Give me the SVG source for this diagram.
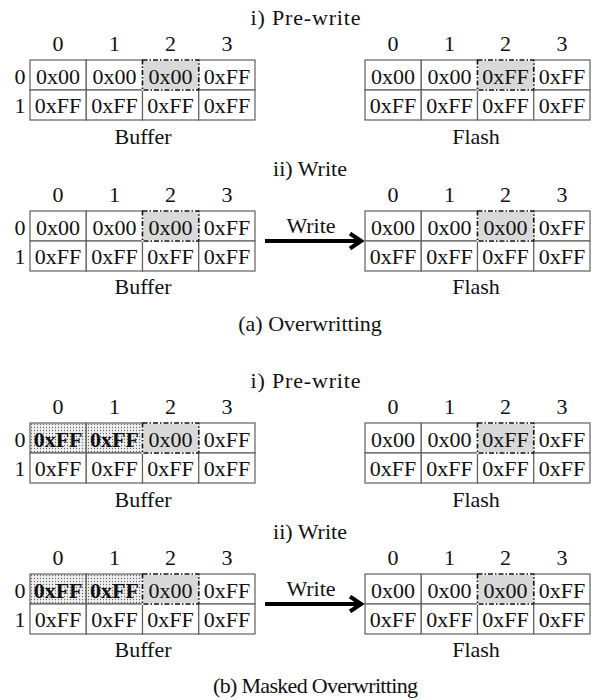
<svg xmlns="http://www.w3.org/2000/svg" width="596" height="700" viewBox="0 0 596 700">
<defs>
<style>
text{font-family:"Liberation Serif","Times New Roman",serif;font-size:22px;fill:#111;text-anchor:middle}
.b{font-weight:bold}
.grid{fill:#fff;stroke:#606060;stroke-width:1.2}
.hl{fill:#d9d9d9;stroke:#fff;stroke-width:1.6}
.hld{fill:none;stroke:#111;stroke-width:1.6;stroke-dasharray:5 2 1.5 2}
.mask{fill:url(#dots);stroke:#606060;stroke-width:1.2}
.arr{stroke:#000;stroke-width:4;fill:none}
</style>
<pattern id="dots" width="3" height="3" patternUnits="userSpaceOnUse">
<rect width="3" height="3" fill="#f0f0f0"/>
<circle cx="1.5" cy="1.5" r="0.65" fill="#666"/>
</pattern>
<marker id="ah" viewBox="0 0 16 18" refX="13" refY="9" markerWidth="16" markerHeight="18" markerUnits="userSpaceOnUse" orient="auto">
<path d="M2,1.5 L13,9 L2,16.5" fill="none" stroke="#000" stroke-width="4"/>
</marker>
</defs>
<rect width="596" height="700" fill="#fff"/>

<!-- (a) Overwritting -->
<text x="305.5" y="25" textLength="110" lengthAdjust="spacing">i) Pre-write</text>

<g id="bufA1" transform="translate(30,60)">
<rect class="grid" x="0" y="0" width="56.25" height="30"/><rect class="grid" x="56.25" y="0" width="56.25" height="30"/><rect class="grid" x="168.75" y="0" width="56.25" height="30"/>
<rect class="grid" x="0" y="30" width="56.25" height="30"/><rect class="grid" x="56.25" y="30" width="56.25" height="30"/><rect class="grid" x="112.5" y="30" width="56.25" height="30"/><rect class="grid" x="168.75" y="30" width="56.25" height="30"/>
<rect class="hl" x="112.5" y="0" width="56.25" height="30"/><rect class="hld" x="112.5" y="0" width="56.25" height="30"/>
<text x="28.1" y="-9">0</text><text x="84.4" y="-9">1</text><text x="140.6" y="-9">2</text><text x="196.9" y="-9">3</text>
<text x="-10" y="23.5">0</text><text x="-10" y="53">1</text>
<text x="28.1" y="23.5">0x00</text><text x="84.4" y="23.5">0x00</text><text x="140.6" y="23.5">0x00</text><text x="196.9" y="23.5">0xFF</text>
<text x="28.1" y="53">0xFF</text><text x="84.4" y="53">0xFF</text><text x="140.6" y="53">0xFF</text><text x="196.9" y="53">0xFF</text>
<text x="113" y="84">Buffer</text>
</g>

<g id="flashA1" transform="translate(365,60)">
<rect class="grid" x="0" y="0" width="56.25" height="30"/><rect class="grid" x="56.25" y="0" width="56.25" height="30"/><rect class="grid" x="168.75" y="0" width="56.25" height="30"/>
<rect class="grid" x="0" y="30" width="56.25" height="30"/><rect class="grid" x="56.25" y="30" width="56.25" height="30"/><rect class="grid" x="112.5" y="30" width="56.25" height="30"/><rect class="grid" x="168.75" y="30" width="56.25" height="30"/>
<rect class="hl" x="112.5" y="0" width="56.25" height="30"/><rect class="hld" x="112.5" y="0" width="56.25" height="30"/>
<text x="28.1" y="-9">0</text><text x="84.4" y="-9">1</text><text x="140.6" y="-9">2</text><text x="196.9" y="-9">3</text>
<text x="28.1" y="23.5">0x00</text><text x="84.4" y="23.5">0x00</text><text x="140.6" y="23.5">0xFF</text><text x="196.9" y="23.5">0xFF</text>
<text x="28.1" y="53">0xFF</text><text x="84.4" y="53">0xFF</text><text x="140.6" y="53">0xFF</text><text x="196.9" y="53">0xFF</text>
<text x="111" y="84">Flash</text>
</g>

<text x="310" y="176">ii) Write</text>

<g id="bufA2" transform="translate(30,211)">
<rect class="grid" x="0" y="0" width="56.25" height="30"/><rect class="grid" x="56.25" y="0" width="56.25" height="30"/><rect class="grid" x="168.75" y="0" width="56.25" height="30"/>
<rect class="grid" x="0" y="30" width="56.25" height="30"/><rect class="grid" x="56.25" y="30" width="56.25" height="30"/><rect class="grid" x="112.5" y="30" width="56.25" height="30"/><rect class="grid" x="168.75" y="30" width="56.25" height="30"/>
<rect class="hl" x="112.5" y="0" width="56.25" height="30"/><rect class="hld" x="112.5" y="0" width="56.25" height="30"/>
<text x="28.1" y="-9">0</text><text x="84.4" y="-9">1</text><text x="140.6" y="-9">2</text><text x="196.9" y="-9">3</text>
<text x="-10" y="23.5">0</text><text x="-10" y="53">1</text>
<text x="28.1" y="23.5">0x00</text><text x="84.4" y="23.5">0x00</text><text x="140.6" y="23.5">0x00</text><text x="196.9" y="23.5">0xFF</text>
<text x="28.1" y="53">0xFF</text><text x="84.4" y="53">0xFF</text><text x="140.6" y="53">0xFF</text><text x="196.9" y="53">0xFF</text>
<text x="113" y="83">Buffer</text>
</g>

<g id="flashA2" transform="translate(365,211)">
<rect class="grid" x="0" y="0" width="56.25" height="30"/><rect class="grid" x="56.25" y="0" width="56.25" height="30"/><rect class="grid" x="168.75" y="0" width="56.25" height="30"/>
<rect class="grid" x="0" y="30" width="56.25" height="30"/><rect class="grid" x="56.25" y="30" width="56.25" height="30"/><rect class="grid" x="112.5" y="30" width="56.25" height="30"/><rect class="grid" x="168.75" y="30" width="56.25" height="30"/>
<rect class="hl" x="112.5" y="0" width="56.25" height="30"/><rect class="hld" x="112.5" y="0" width="56.25" height="30"/>
<text x="28.1" y="-9">0</text><text x="84.4" y="-9">1</text><text x="140.6" y="-9">2</text><text x="196.9" y="-9">3</text>
<text x="28.1" y="23.5">0x00</text><text x="84.4" y="23.5">0x00</text><text x="140.6" y="23.5">0x00</text><text x="196.9" y="23.5">0xFF</text>
<text x="28.1" y="53">0xFF</text><text x="84.4" y="53">0xFF</text><text x="140.6" y="53">0xFF</text><text x="196.9" y="53">0xFF</text>
<text x="111" y="83">Flash</text>
</g>

<text x="310" y="331">(a) Overwritting</text>

<!-- (b) Masked Overwritting -->
<text x="305.5" y="388" textLength="110" lengthAdjust="spacing">i) Pre-write</text>

<g id="bufB1" transform="translate(30,423)">
<rect class="mask" x="0" y="0" width="56.25" height="30"/><rect class="mask" x="56.25" y="0" width="56.25" height="30"/><rect class="grid" x="168.75" y="0" width="56.25" height="30"/>
<rect class="grid" x="0" y="30" width="56.25" height="30"/><rect class="grid" x="56.25" y="30" width="56.25" height="30"/><rect class="grid" x="112.5" y="30" width="56.25" height="30"/><rect class="grid" x="168.75" y="30" width="56.25" height="30"/>
<rect class="hl" x="112.5" y="0" width="56.25" height="30"/><rect class="hld" x="112.5" y="0" width="56.25" height="30"/>
<text x="28.1" y="-9">0</text><text x="84.4" y="-9">1</text><text x="140.6" y="-9">2</text><text x="196.9" y="-9">3</text>
<text x="-10" y="23.5">0</text><text x="-10" y="53">1</text>
<text class="b" x="28.1" y="23.5">0xFF</text><text class="b" x="84.4" y="23.5">0xFF</text><text x="140.6" y="23.5">0x00</text><text x="196.9" y="23.5">0xFF</text>
<text x="28.1" y="53">0xFF</text><text x="84.4" y="53">0xFF</text><text x="140.6" y="53">0xFF</text><text x="196.9" y="53">0xFF</text>
<text x="113" y="84">Buffer</text>
</g>

<g id="flashB1" transform="translate(365,423)">
<rect class="grid" x="0" y="0" width="56.25" height="30"/><rect class="grid" x="56.25" y="0" width="56.25" height="30"/><rect class="grid" x="168.75" y="0" width="56.25" height="30"/>
<rect class="grid" x="0" y="30" width="56.25" height="30"/><rect class="grid" x="56.25" y="30" width="56.25" height="30"/><rect class="grid" x="112.5" y="30" width="56.25" height="30"/><rect class="grid" x="168.75" y="30" width="56.25" height="30"/>
<rect class="hl" x="112.5" y="0" width="56.25" height="30"/><rect class="hld" x="112.5" y="0" width="56.25" height="30"/>
<text x="28.1" y="-9">0</text><text x="84.4" y="-9">1</text><text x="140.6" y="-9">2</text><text x="196.9" y="-9">3</text>
<text x="28.1" y="23.5">0x00</text><text x="84.4" y="23.5">0x00</text><text x="140.6" y="23.5">0xFF</text><text x="196.9" y="23.5">0xFF</text>
<text x="28.1" y="53">0xFF</text><text x="84.4" y="53">0xFF</text><text x="140.6" y="53">0xFF</text><text x="196.9" y="53">0xFF</text>
<text x="111" y="84">Flash</text>
</g>

<text x="310" y="539">ii) Write</text>

<g id="bufB2" transform="translate(30,574)">
<rect class="mask" x="0" y="0" width="56.25" height="30"/><rect class="mask" x="56.25" y="0" width="56.25" height="30"/><rect class="grid" x="168.75" y="0" width="56.25" height="30"/>
<rect class="grid" x="0" y="30" width="56.25" height="30"/><rect class="grid" x="56.25" y="30" width="56.25" height="30"/><rect class="grid" x="112.5" y="30" width="56.25" height="30"/><rect class="grid" x="168.75" y="30" width="56.25" height="30"/>
<rect class="hl" x="112.5" y="0" width="56.25" height="30"/><rect class="hld" x="112.5" y="0" width="56.25" height="30"/>
<text x="28.1" y="-9">0</text><text x="84.4" y="-9">1</text><text x="140.6" y="-9">2</text><text x="196.9" y="-9">3</text>
<text x="-10" y="23.5">0</text><text x="-10" y="53">1</text>
<text class="b" x="28.1" y="23.5">0xFF</text><text class="b" x="84.4" y="23.5">0xFF</text><text x="140.6" y="23.5">0x00</text><text x="196.9" y="23.5">0xFF</text>
<text x="28.1" y="53">0xFF</text><text x="84.4" y="53">0xFF</text><text x="140.6" y="53">0xFF</text><text x="196.9" y="53">0xFF</text>
<text x="113" y="83">Buffer</text>
</g>

<g id="flashB2" transform="translate(365,574)">
<rect class="grid" x="0" y="0" width="56.25" height="30"/><rect class="grid" x="56.25" y="0" width="56.25" height="30"/><rect class="grid" x="168.75" y="0" width="56.25" height="30"/>
<rect class="grid" x="0" y="30" width="56.25" height="30"/><rect class="grid" x="56.25" y="30" width="56.25" height="30"/><rect class="grid" x="112.5" y="30" width="56.25" height="30"/><rect class="grid" x="168.75" y="30" width="56.25" height="30"/>
<rect class="hl" x="112.5" y="0" width="56.25" height="30"/><rect class="hld" x="112.5" y="0" width="56.25" height="30"/>
<text x="28.1" y="-9">0</text><text x="84.4" y="-9">1</text><text x="140.6" y="-9">2</text><text x="196.9" y="-9">3</text>
<text x="28.1" y="23.5">0x00</text><text x="84.4" y="23.5">0x00</text><text x="140.6" y="23.5">0x00</text><text x="196.9" y="23.5">0xFF</text>
<text x="28.1" y="53">0xFF</text><text x="84.4" y="53">0xFF</text><text x="140.6" y="53">0xFF</text><text x="196.9" y="53">0xFF</text>
<text x="111" y="83">Flash</text>
</g>

<text x="315.5" y="693" textLength="205" lengthAdjust="spacing">(b) Masked Overwritting</text>

<g id="connectors">
<line class="arr" x1="265" y1="241" x2="361" y2="241" marker-end="url(#ah)"/>
<text x="311" y="233">Write</text>
<line class="arr" x1="265" y1="604" x2="361" y2="604" marker-end="url(#ah)"/>
<text x="311" y="596">Write</text>
</g>
</svg>
